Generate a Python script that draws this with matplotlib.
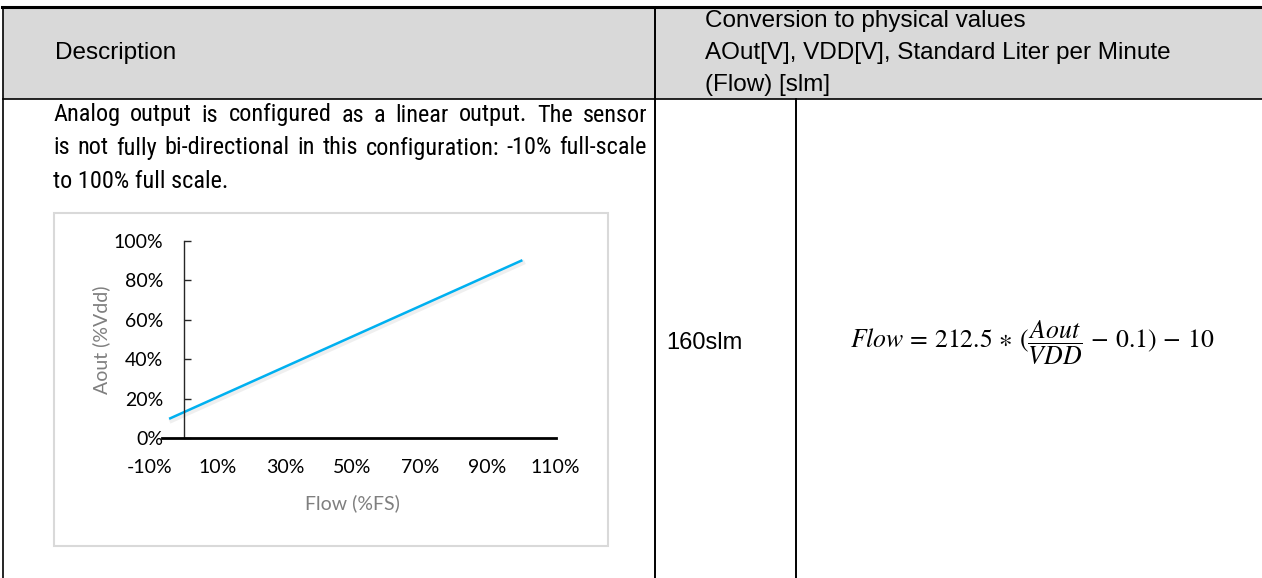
import matplotlib
matplotlib.use("Agg")
from matplotlib import pyplot as plt
from matplotlib import font_manager
from matplotlib.patches import Rectangle
import matplotlib.patheffects as pe

# chart data (Flow %FS vs Aout %Vdd)
flow = [-4, 100]
aout = [10, 90]
x_ticks = [-10, 10, 30, 50, 70, 90, 110]
x_labels = ["-10%", "10%", "30%", "50%", "70%", "90%", "110%"]
y_ticks = [0, 20, 40, 60, 80, 100]
y_labels = ["0%", "20%", "40%", "60%", "80%", "100%"]

header_left = "Description"
header_right = ["Conversion to physical values",
                "AOut[V], VDD[V], Standard Liter per Minute",
                "(Flow) [slm]"]
body_lines = ["Analog output is configured as a linear output. The sensor",
              "is not fully bi-directional in this configuration: -10% full-scale",
              "to 100% full scale."]
range_text = "160slm"
formula = r"$Flow\,=\,212.5\,\ast\,(\dfrac{Aout}{VDD}\,-\,0.1)\,-\,10$"

plt.rcParams["mathtext.fontset"] = "stix"
names = {f.name for f in font_manager.fontManager.ttflist}
narrow, body_size = "Liberation Sans", 14.5
for cand in ["Liberation Sans Narrow", "Arial Narrow", "Roboto Condensed", "Open Sans Condensed"]:
    if cand in names:
        narrow, body_size = cand, 17.5
        break

W, H = 1262, 578
fig = plt.figure(figsize=(W / 100, H / 100), dpi=100)

# page layer in pixel coordinates
page = fig.add_axes([0, 0, 1, 1])
page.set_xlim(0, W)
page.set_ylim(H, 0)
page.axis("off")

page.add_patch(Rectangle((3, 7), W - 3, 92, facecolor="#d9d9d9", edgecolor="none"))
page.plot([2, W], [7, 7], color="black", lw=2.2)
page.plot([3, W], [99, 99], color="black", lw=1.2)
page.plot([3, 3], [7, H], color="black", lw=1.2)
page.plot([655, 655], [7, H], color="black", lw=1.4)
page.plot([796, 796], [99, H], color="black", lw=1.4)

page.text(55, 53, header_left, family="Liberation Sans", fontsize=17.5, va="center")
for i, s in enumerate(header_right):
    page.text(705, 21 + 32 * i, s, family="Liberation Sans", fontsize=17.5, va="center")

# justified body text
renderer = fig.canvas.get_renderer()
left, right = 53, 647
for i, line in enumerate(body_lines):
    y = 115 + 33 * i
    if i == len(body_lines) - 1:
        page.text(left, y, line, family=narrow, fontsize=body_size, va="center")
        continue
    words = line.split(" ")
    widths = []
    for w in words:
        t = page.text(0, 0, w, family=narrow, fontsize=body_size)
        widths.append(t.get_window_extent(renderer).width)
        t.remove()
    gap = (right - left - sum(widths)) / (len(words) - 1)
    x = left
    for w, wd in zip(words, widths):
        page.text(x, y, w, family=narrow, fontsize=body_size, va="center")
        x += wd + gap

page.text(666, 343, range_text, family="Liberation Sans", fontsize=17, va="center")
page.text(1032, 343, formula, fontsize=18.5, ha="center", va="center")

# chart frame
page.add_patch(Rectangle((54, 213), 554, 333, facecolor="white", edgecolor="#d9d9d9", lw=1.5))

# chart axes: x -10..110 -> px 150..555, y 0..100 -> px 438..241
ax = fig.add_axes([150 / W, (H - 438) / H, 405 / W, 197 / H])
ax.set_facecolor("none")
ax.plot(flow, aout, color="#00b0f0", lw=1.8,
        path_effects=[pe.SimpleLineShadow(offset=(1, -1.5), shadow_color="gray", alpha=0.12, linewidth=3.5),
                      pe.Normal()])
ax.set_xlim(-10, 110)
ax.set_ylim(0, 100)
ax.spines["top"].set_visible(False)
ax.spines["right"].set_visible(False)
ax.spines["left"].set_position(("data", 0))
ax.spines["left"].set_color("#262626")
ax.spines["left"].set_linewidth(1.0)
ax.spines["bottom"].set_bounds(-6.5, 110.3)
ax.spines["bottom"].set_linewidth(2.0)
ax.set_xticks(x_ticks, x_labels)
ax.set_yticks(y_ticks, y_labels)
ax.tick_params(axis="x", length=0, pad=15, labelsize=14)
ax.tick_params(axis="y", direction="in", length=5, width=1.0, color="#262626", pad=15, labelsize=14)
for lab in ax.get_xticklabels() + ax.get_yticklabels():
    lab.set_family("Lato")
ax.set_xlabel("Flow (%FS)", family="Lato", fontsize=14, color="#7f7f7f", va="center")
ax.set_ylabel("Aout (%Vdd)", family="Lato", fontsize=14, color="#7f7f7f", va="center")
ax.xaxis.set_label_coords(0.5, (438 - 503) / 197)
ax.yaxis.set_label_coords((101 - 150) / 405, 0.5)

fig.savefig("out.png", dpi=100)
